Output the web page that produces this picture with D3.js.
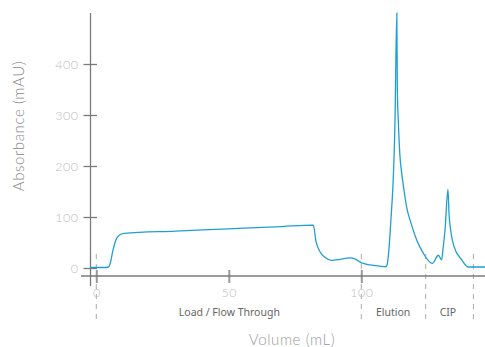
<!DOCTYPE html>
<html>
<head>
<meta charset="utf-8">
<script src="https://cdn.jsdelivr.net/npm/d3@7"></script>
<style>
  body { margin: 0; background: #fff; }
  svg text { font-family: "Lato", "Open Sans", sans-serif; }
</style>
</head>
<body>
<div id="chart"></div>
<script>
// chromatogram trace
const volume = [-2.4, 1.4, 3.3, 4.4, 5.2, 6.3, 7.4, 8.6, 10.5, 30, 50, 70, 81.9,
  82.9, 84.4, 86.3, 88.8, 92.0, 95.7, 97.6, 99.9, 103.3, 107, 109.3,
  109.6, 111.1, 112.7, 113.4, 113.6, 114.0, 114.6, 115.25, 116.1, 117.1, 118.75, 120.9, 123.4, 126.8,
  129.1, 130.3, 130.9, 131.6, 132.7, 133.1, 133.7, 135.0, 137.9, 140.4, 146.7];
const absorbance = [1, 1, 1, 1.5, 8, 35, 55, 64, 68, 72.4, 76.8, 81.3, 84,
  52, 32, 21, 15, 17, 20, 18, 10.5, 6, 3.5, 2.5,
  4, 88, 284, 500, 349, 284, 218, 186, 153, 120, 88, 55, 29, 9,
  25, 16, 40, 75, 154, 107, 75, 42, 16, 2, 2];

const yTicks = [0, 100, 200, 300, 400];
const xTicks = [0, 50, 100];

// phase boundaries and labels
const phaseBounds = [0, 100, 124.3, 142.3];
const phaseNames = ["Load / Flow Through", "Elution", "CIP"];
const phaseCenters = [50.2, 112, 132.7];

const W = 485, H = 347;

const svg = d3.select("#chart").append("svg")
  .attr("width", W)
  .attr("height", H);

const x = d3.scaleLinear().domain([0, 100]).range([96.3, 361.3]);
const y = d3.scaleLinear().domain([0, 500]).range([268, 13]);

const axisColor = "#7a7a7a";
const tickText = "#bdbdbd";

// dashed phase separators
svg.append("g").selectAll("line").data(phaseBounds)
  .enter().append("line")
    .attr("x1", d => x(d)).attr("x2", d => x(d))
    .attr("y1", 254).attr("y2", 322)
    .attr("stroke", "#aaa")
    .attr("stroke-width", 1)
    .attr("stroke-dasharray", "5,5");

// x axis
const xAxis = svg.append("g")
  .attr("transform", "translate(0,276)")
  .call(d3.axisBottom(x).tickValues(xTicks).tickSize(7).tickFormat(d3.format("d")));
xAxis.select(".domain").remove();
xAxis.selectAll(".tick line")
  .attr("y1", -6).attr("y2", 7)
  .attr("stroke", "#999").attr("stroke-width", 2);
xAxis.selectAll(".tick text")
  .attr("y", 12).attr("dy", "0.71em")
  .attr("fill", tickText)
  .style("font-size", "12.5px").style("font-weight", 300)
  .style("letter-spacing", "0.5px");
xAxis.append("line")
  .attr("x1", 81).attr("x2", W)
  .attr("stroke", axisColor).attr("stroke-width", 1.3);

// y axis
const yAxis = svg.append("g")
  .attr("transform", "translate(90.5,0)")
  .call(d3.axisLeft(y).tickValues(yTicks).tickSize(7));
yAxis.select(".domain").remove();
yAxis.selectAll(".tick line")
  .attr("x1", -7).attr("x2", 6.5)
  .attr("stroke", axisColor).attr("stroke-width", 1.3);
yAxis.selectAll(".tick text")
  .attr("x", -12)
  .attr("fill", tickText)
  .style("font-size", "12.5px").style("font-weight", 300)
  .style("letter-spacing", "0.5px");
yAxis.append("line")
  .attr("y1", 13).attr("y2", 286)
  .attr("stroke", axisColor).attr("stroke-width", 1.3);

// trace
const pts = volume.map((v, i) => [v, absorbance[i]]);
svg.append("path")
  .datum(pts)
  .attr("fill", "none")
  .attr("stroke", "#1e9fd3")
  .attr("stroke-width", 1.3)
  .attr("d", d3.line().x(d => x(d[0])).y(d => y(d[1])).curve(d3.curveMonotoneX));

// phase labels
svg.append("g").selectAll("text").data(phaseNames)
  .enter().append("text")
    .attr("x", (d, i) => x(phaseCenters[i]))
    .attr("y", 316)
    .attr("text-anchor", "middle")
    .attr("fill", "#666")
    .style("font-family", "'Noto Sans', sans-serif")
    .style("font-size", "10.5px")
    .text(d => d);

// axis titles
svg.append("text")
  .attr("x", 292).attr("y", 345)
  .attr("text-anchor", "middle")
  .attr("fill", "#999")
  .style("font-size", "15px").style("font-weight", 300)
  .style("letter-spacing", "0.6px")
  .text("Volume (mL)");

svg.append("text")
  .attr("transform", "translate(24,126) rotate(-90)")
  .attr("text-anchor", "middle")
  .attr("fill", "#888")
  .style("font-size", "15px").style("font-weight", 300)
  .style("letter-spacing", "0.6px")
  .text("Absorbance (mAU)");
</script>
</body>
</html>
